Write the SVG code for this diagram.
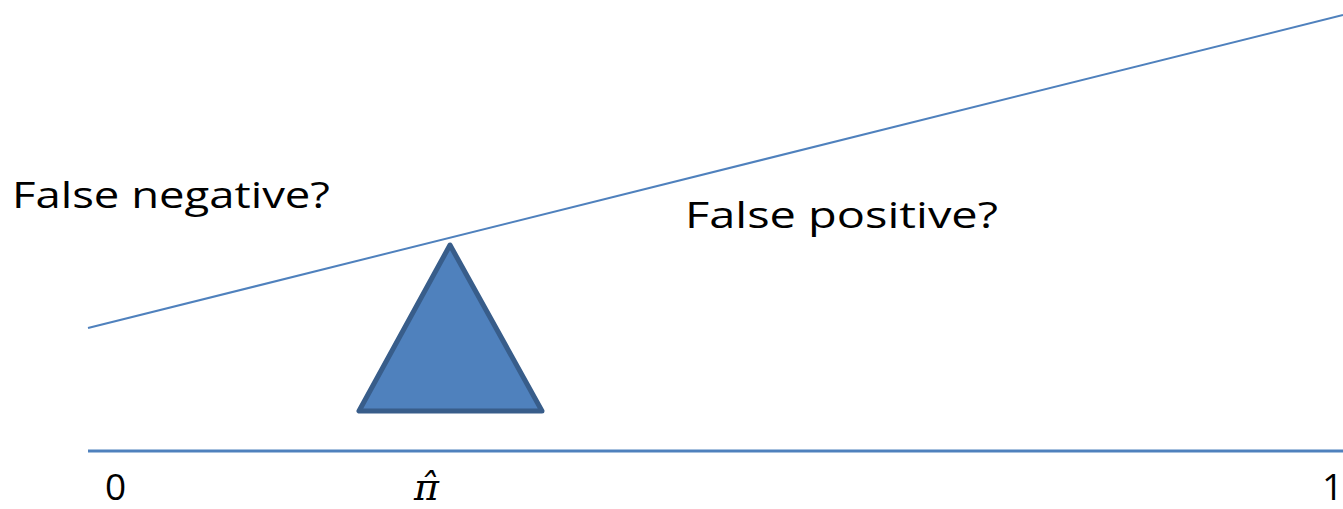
<svg xmlns="http://www.w3.org/2000/svg" width="1343" height="509" viewBox="0 0 1343 509">
<style>
.lbl{font-family:"Open Sans","Liberation Sans",sans-serif;font-size:37px;fill:#000}
.ax{stroke:#4f81bd;fill:none}
</style>
<rect width="1343" height="509" fill="#fff"/>
<g id="connectors">
<line class="ax" x1="88" y1="328" x2="1343" y2="15" stroke-width="2"/>
<line class="ax" x1="88" y1="451" x2="1343" y2="451" stroke-width="3"/>
</g>
<g id="fulcrum">
<polygon points="450,245 359,411 542,411" fill="#4f81bd" stroke="#385d8a" stroke-width="5" stroke-linejoin="round"/>
</g>
<g id="label-fn"><text class="lbl" x="12" y="208" textLength="318" lengthAdjust="spacingAndGlyphs">False negative?</text></g>
<g id="label-fp"><text class="lbl" x="685" y="228" textLength="313" lengthAdjust="spacingAndGlyphs">False positive?</text></g>
<g id="tick-0"><text class="lbl" x="105" y="500">0</text></g>
<g id="tick-pi"><text x="414" y="500" font-family="'DejaVu Serif',serif" font-style="italic" font-size="38px">π̂</text></g>
<g id="tick-1"><text class="lbl" x="1322" y="500">1</text></g>
</svg>
